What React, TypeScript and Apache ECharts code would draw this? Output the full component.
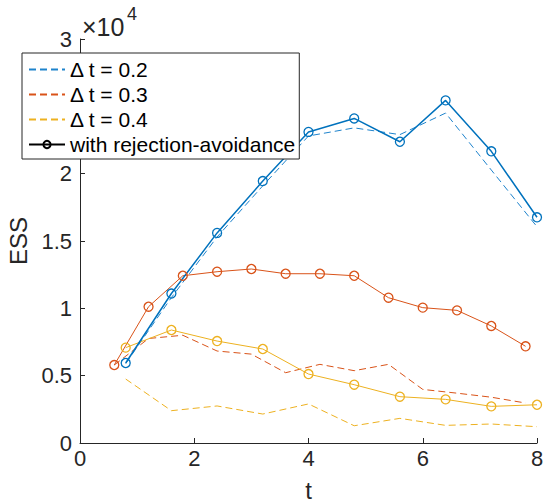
import React, { useEffect, useRef } from 'react';
import * as echarts from 'echarts';

// time grids
const tStep08 = [0.8, 1.6, 2.4, 3.2, 4.0, 4.8, 5.6, 6.4, 7.2, 8.0];
const tStep06 = [0.6, 1.2, 1.8, 2.4, 3.0, 3.6, 4.2, 4.8, 5.4, 6.0, 6.6, 7.2, 7.8];

// ESS values (plain Δt runs, dashed)
const essDt02 = [5900, 10800, 15300, 19100, 22800, 23400, 22900, 24500, 20270, 16060];
const essDt03 = [5790, 7760, 8000, 6830, 6600, 5220, 5840, 5370, 5840, 3980, 3700, 3400, 2970];
const essDt04 = [4750, 2400, 2750, 2150, 2900, 1280, 1830, 1310, 1410, 1210];

// ESS values with rejection-avoidance (solid with markers)
const essRaDt02 = [5940, 11100, 15600, 19450, 23100, 24100, 22370, 25440, 21660, 16760];
const essRaDt03 = [5790, 10120, 12420, 12720, 12920, 12570, 12570, 12420, 10790, 10050, 9850, 8690, 7180];
const essRaDt04 = [7080, 8390, 7570, 6980, 5120, 4330, 3440, 3240, 2720, 2840];

const xTicks = [0, 2, 4, 6, 8];
const yTicks = [0, 0.5, 1, 1.5, 2, 2.5, 3];

const legendNames = ['Δ t = 0.2', 'Δ t = 0.3', 'Δ t = 0.4', 'with rejection-avoidance'];

const BLUE = '#0072BD';
const BLUE_DASH = '#1E83CC';
const ORANGE = '#D95319';
const YELLOW = '#EDB120';
const FONT = 'Liberation Sans, Arial, Helvetica, sans-serif';

const pairs = (xs: number[], ys: number[]) => xs.map((x, i) => [x, ys[i]]);

export default function App() {
  const ref = useRef<HTMLDivElement>(null);

  useEffect(() => {
    if (!ref.current) return;
    const chart = echarts.init(ref.current, null, { renderer: 'svg' });

    const dashed = (name: string, color: string, xs: number[], ys: number[]) => ({
      name,
      type: 'line',
      data: pairs(xs, ys),
      symbol: 'none',
      color,
      lineStyle: { color, width: 1, type: [7, 4] },
      z: 2,
    });
    const solid = (name: string, color: string, xs: number[], ys: number[], width: number) => ({
      name,
      type: 'line',
      data: pairs(xs, ys),
      symbol: 'circle',
      symbolSize: 9,
      showSymbol: true,
      color,
      lineStyle: { color, width },
      itemStyle: { color: 'rgba(255,255,255,0)', borderColor: color, borderWidth: 1.3 },
      z: 3,
    });

    const hiddenSymbol = { color: 'rgba(0,0,0,0)', borderWidth: 0, opacity: 0 };

    chart.setOption({
      animation: false,
      backgroundColor: '#ffffff',
      grid: { left: 80, right: 8, top: 39, bottom: 61, containLabel: false, outerBoundsMode: 'none' },
      xAxis: {
        type: 'value',
        min: 0,
        max: 8,
        interval: 2,
        name: 't',
        nameLocation: 'middle',
        nameGap: 36,
        nameTextStyle: { fontSize: 24, lineHeight: 22, color: '#262626', fontFamily: FONT },
        axisLine: { show: true, lineStyle: { color: '#262626', width: 1 } },
        axisTick: { show: true, inside: true, length: 5, lineStyle: { color: '#262626' } },
        axisLabel: {
          fontSize: 22,
          color: '#262626',
          fontFamily: FONT,
          margin: 4,
          showMaxLabel: true,
          formatter: (v: number) => (xTicks.includes(v) ? String(v) : ''),
        },
        splitLine: { show: false },
      },
      yAxis: {
        type: 'value',
        min: 0,
        max: 30000,
        interval: 5000,
        name: 'ESS',
        nameLocation: 'middle',
        nameRotate: 90,
        nameGap: 42,
        nameTextStyle: { fontSize: 24, color: '#262626', fontFamily: FONT },
        axisLine: { show: true, lineStyle: { color: '#262626', width: 1 } },
        axisTick: { show: true, inside: true, length: 5, lineStyle: { color: '#262626' } },
        axisLabel: {
          fontSize: 22,
          color: '#262626',
          fontFamily: FONT,
          margin: 8,
          formatter: (v: number) => {
            const s = v / 10000;
            return yTicks.includes(s) ? String(s) : '';
          },
        },
        splitLine: { show: false },
      },
      legend: {
        data: [
          { name: legendNames[0], itemStyle: hiddenSymbol },
          { name: legendNames[1], itemStyle: hiddenSymbol },
          { name: legendNames[2], itemStyle: hiddenSymbol },
          { name: legendNames[3] },
        ],
        orient: 'vertical',
        left: 22,
        top: 53,
        backgroundColor: '#ffffff',
        borderColor: '#262626',
        borderWidth: 1,
        borderRadius: 0,
        padding: [6, 4, 4, 6],
        itemWidth: 36,
        itemHeight: 9,
        itemGap: 4,
        textStyle: { fontSize: 21, color: '#000000', fontFamily: FONT },
        z: 10,
      },
      graphic: [
        {
          type: 'text',
          left: 82,
          top: 14,
          style: { text: '×10', fontSize: 25, fill: '#262626', fontFamily: FONT },
          z: 10,
        },
        {
          type: 'text',
          left: 127,
          top: 5,
          style: { text: '4', fontSize: 18, fill: '#262626', fontFamily: FONT },
          z: 10,
        },
      ],
      series: [
        dashed(legendNames[0], BLUE_DASH, tStep08, essDt02),
        dashed(legendNames[1], ORANGE, tStep06, essDt03),
        dashed(legendNames[2], YELLOW, tStep08, essDt04),
        {
          name: legendNames[3],
          type: 'line',
          data: [],
          symbol: 'circle',
          symbolSize: 9,
          color: '#000000',
          lineStyle: { color: '#000000', width: 1 },
          itemStyle: { color: 'rgba(255,255,255,0)', borderColor: '#000000', borderWidth: 1.2 },
        },
        solid('RA Δ t = 0.3', ORANGE, tStep06, essRaDt03, 1),
        solid('RA Δ t = 0.4', YELLOW, tStep08, essRaDt04, 1),
        solid('RA Δ t = 0.2', BLUE, tStep08, essRaDt02, 1.5),
      ],
    });

    return () => chart.dispose();
  }, []);

  return (
    <div
      ref={ref}
      style={{ position: 'fixed', left: 0, top: 0, width: 545, height: 504 }}
    />
  );
}
